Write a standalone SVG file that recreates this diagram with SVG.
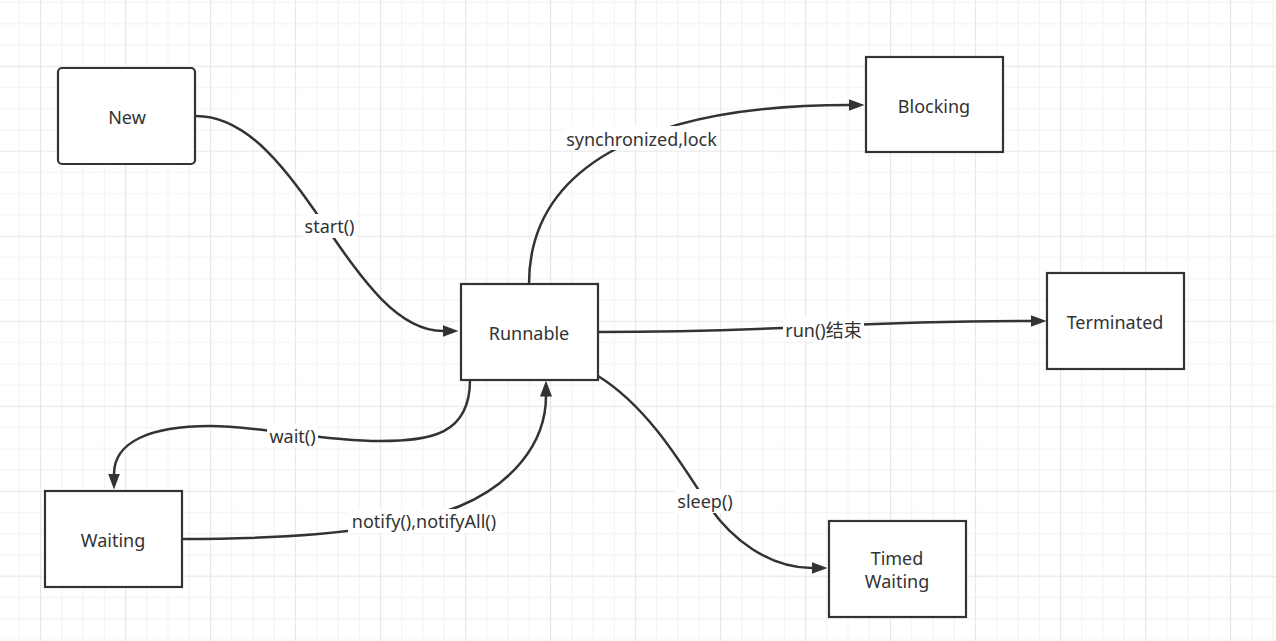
<svg xmlns="http://www.w3.org/2000/svg" width="1276" height="641" viewBox="0 0 1276 641">
  <style>
    .node { fill: #ffffff; stroke: #333333; stroke-width: 2.2; }
    .ntext { font-family: "Noto Sans", "Open Sans", sans-serif; font-size: 18px; fill: #333333; text-anchor: middle; }
    .edge { fill: none; stroke: #333333; stroke-width: 2.5; marker-end: url(#arrow); }
    .lbg { fill: #ffffff; }
    .ltext { font-family: "Noto Sans", "Open Sans", "Noto Sans CJK SC", sans-serif; font-size: 18px; fill: #333333; text-anchor: middle; }
  </style>
  <defs>
    <pattern id="grid" x="40" y="65.7" width="85" height="85" patternUnits="userSpaceOnUse">
      <rect x="21.25" y="0" width="1" height="85" fill="#f1f1f1"/>
      <rect x="42.5" y="0" width="1" height="85" fill="#f1f1f1"/>
      <rect x="63.75" y="0" width="1" height="85" fill="#f1f1f1"/>
      <rect x="0" y="21.25" width="85" height="1" fill="#f1f1f1"/>
      <rect x="0" y="42.5" width="85" height="1" fill="#f1f1f1"/>
      <rect x="0" y="63.75" width="85" height="1" fill="#f1f1f1"/>
      <rect x="0" y="0" width="1.2" height="85" fill="#e8e8e8"/>
      <rect x="0" y="0" width="85" height="1.2" fill="#e8e8e8"/>
    </pattern>
    <marker id="arrow" viewBox="0 0 16 12" refX="0.5" refY="6" markerWidth="16" markerHeight="12" markerUnits="userSpaceOnUse" orient="auto">
      <path d="M0,0 L16,6 L0,12 z" fill="#333333"/>
    </marker>
  </defs>
  <rect x="0" y="0" width="1276" height="641" fill="#ffffff"/>
  <rect x="0" y="0" width="1276" height="641" fill="url(#grid)"/>

  <g id="connectors">
    <path id="e-start" class="edge" d="M196,116 C300,116 350,331 443,331"/>
    <path id="e-sync" class="edge" d="M529,284 C529,170 640,105 849,105"/>
    <path id="e-run" class="edge" d="M598,332 C800,332 830,321 1031,321"/>
    <path id="e-wait" class="edge" d="M470,380 C470,435 430,441 380,441 C320,441 260,426 210,426 C150,426 114,442 114,474"/>
    <path id="e-notify" class="edge" d="M183,539 C300,539 400,530 460,506 C510,485 546,445 546,396"/>
    <path id="e-sleep" class="edge" d="M598,376 C645,405 678,458 705,500 C730,540 770,568 812,568"/>
    <g id="edge-labels">
      <rect class="lbg" x="303" y="214" width="53" height="24"/>
      <text class="ltext" x="329.5" y="233">start()</text>
      <rect class="lbg" x="564" y="126" width="155" height="24"/>
      <text class="ltext" x="641.5" y="146">synchronized,lock</text>
      <rect class="lbg" x="783" y="317" width="81" height="24"/>
      <text class="ltext" x="823.5" y="336.5">run()结束</text>
      <rect class="lbg" x="267" y="424" width="51" height="24"/>
      <text class="ltext" x="292.5" y="443">wait()</text>
      <rect class="lbg" x="348" y="509" width="152" height="24"/>
      <text class="ltext" x="424" y="528">notify(),notifyAll()</text>
      <rect class="lbg" x="675" y="489" width="60" height="24"/>
      <text class="ltext" x="705" y="508">sleep()</text>
    </g>
  </g>

  <g id="node-new">
    <rect class="node" x="58" y="68" width="137" height="96" rx="4" ry="4"/>
    <text class="ntext" x="127" y="124">New</text>
  </g>
  <g id="node-runnable">
    <rect class="node" x="461" y="284" width="137" height="96"/>
    <text class="ntext" x="529" y="340">Runnable</text>
  </g>
  <g id="node-blocking">
    <rect class="node" x="866" y="57" width="137" height="95"/>
    <text class="ntext" x="934" y="113">Blocking</text>
  </g>
  <g id="node-terminated">
    <rect class="node" x="1047" y="273" width="137" height="96"/>
    <text class="ntext" x="1115" y="328.5">Terminated</text>
  </g>
  <g id="node-waiting">
    <rect class="node" x="45" y="491" width="137" height="96"/>
    <text class="ntext" x="113" y="547">Waiting</text>
  </g>
  <g id="node-timed-waiting">
    <rect class="node" x="829" y="521" width="137" height="96"/>
    <text class="ntext" x="897" y="565">Timed</text>
    <text class="ntext" x="897" y="587.5">Waiting</text>
  </g>
</svg>
